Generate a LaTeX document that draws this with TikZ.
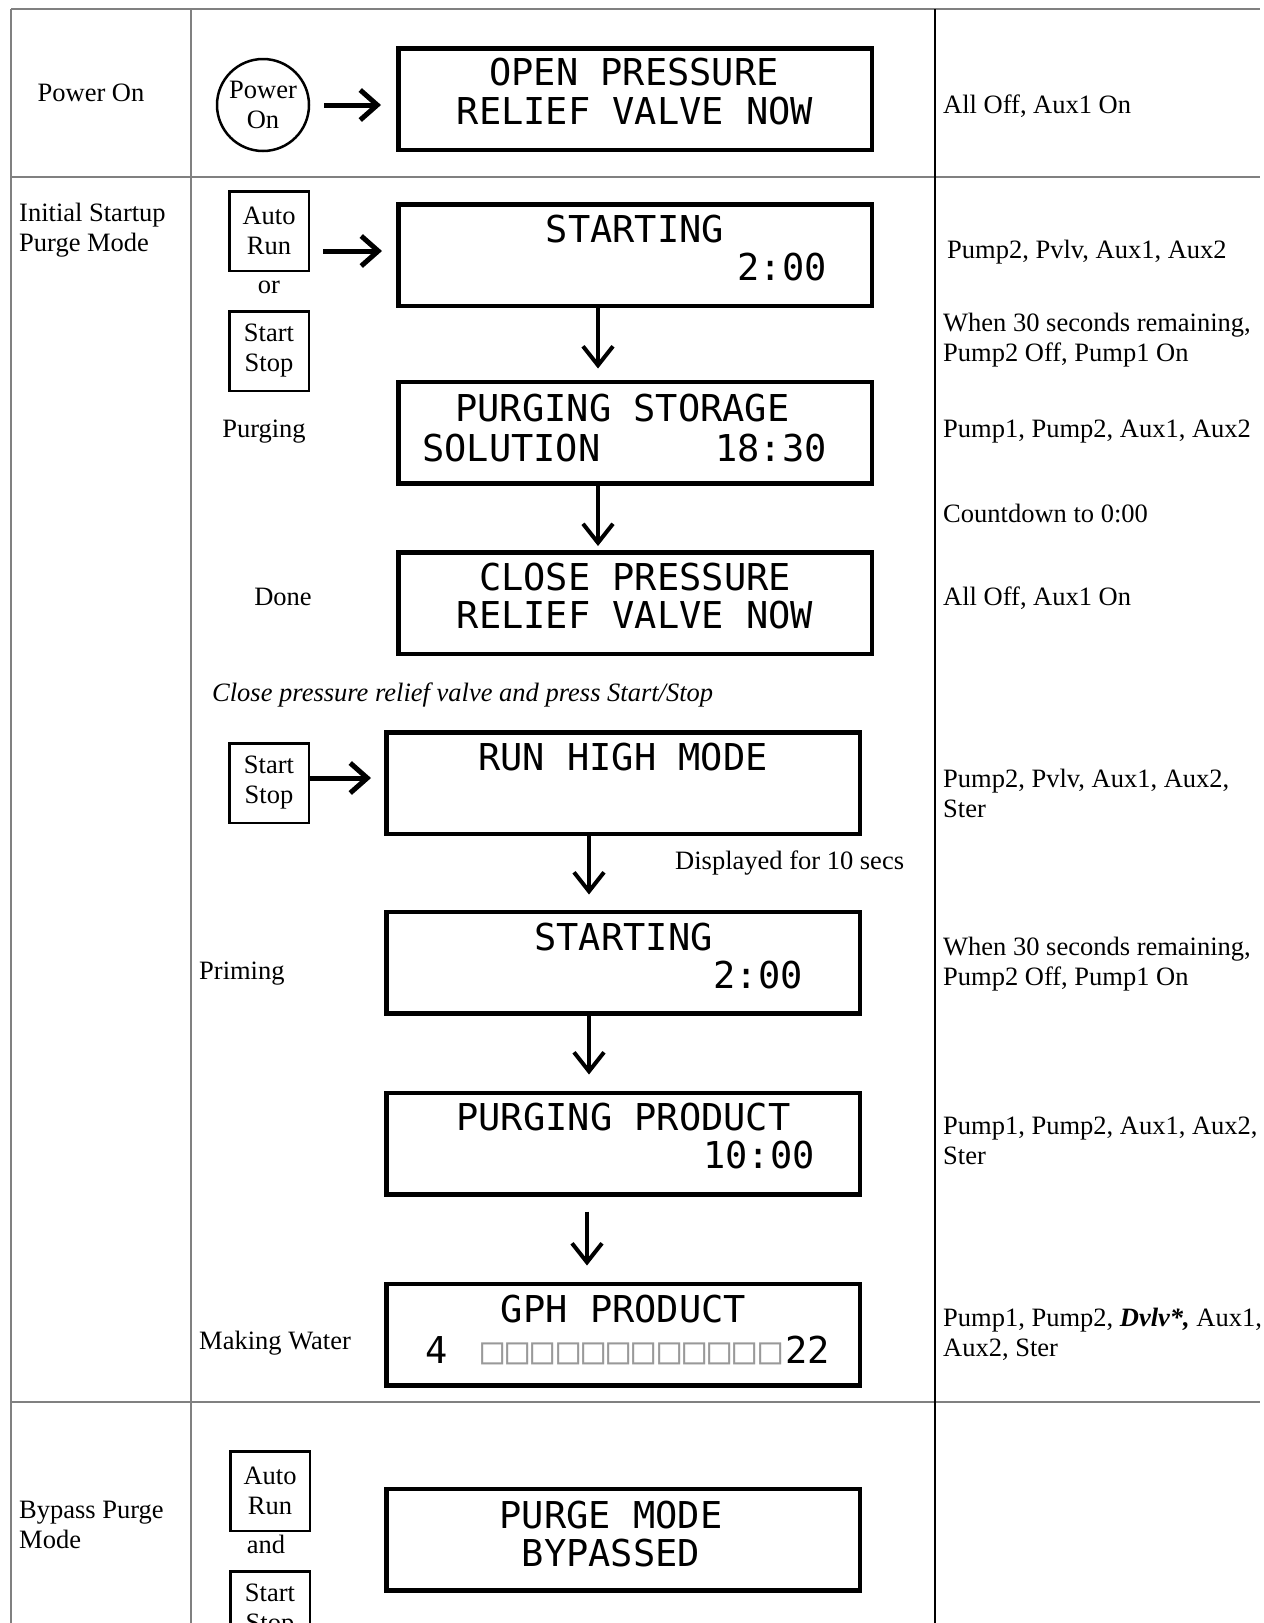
\documentclass[tikz,border=0pt]{standalone}
\usepackage{fontspec}
\setmainfont{Liberation Serif}
\newfontfamily\lcdfont{DejaVu Sans Mono}
\usetikzlibrary{arrows.meta,calc}
\newcommand\barcell{□\kern3pt}

\begin{document}
\begin{tikzpicture}[
    x=1pt, y=-1pt,
    tablerule/.style={draw=gray, line width=1.5pt},
    lcd/.style={rectangle, draw, line width=4.5pt, minimum width=473.5pt, minimum height=101.5pt, inner sep=0pt},
    lcdtext/.style={font=\lcdfont\fontsize{37}{40}\selectfont, inner sep=0pt},
    note/.style={font=\fontsize{26.5}{30}\selectfont, inner sep=0pt, align=left},
    button/.style={rectangle, draw, line width=2.5pt, minimum width=79.5pt, minimum height=79.5pt, inner sep=0pt, align=center, font=\fontsize{26.5}{30}\selectfont},
    harrow/.style={line width=5pt, -{Straight Barb[length=17pt, width=30pt]}},
    varrow/.style={line width=4pt, -{Straight Barb[length=19pt, width=30pt]}}
]
\useasboundingbox (0,0) rectangle (1264,1623);
\clip (0,0) rectangle (1264,1623);

% Table rules
\draw[tablerule] (11,9) -- (1260,9);
\draw[tablerule] (11,177) -- (1260,177);
\draw[tablerule] (11,1402) -- (1260,1402);
\draw[tablerule] (11,9) -- (11,1623);
\draw[tablerule] (191,9) -- (191,1623);
\draw[line width=2.5pt] (935,9) -- (935,1623);

% Power On row
\node[note, anchor=mid] (rowpower) at (91,99) {Power On};
\node[circle, draw, line width=2.5pt, minimum size=92pt, inner sep=0pt, align=center, font=\fontsize{26.5}{30}\selectfont] (pwr) at (263,105) {Power\\On};
\node[lcd] (d1) at (635,99) {};
\node[lcdtext, anchor=base] (d1a) at (634,85) {OPEN PRESSURE};
\node[lcdtext, anchor=base] (d1b) at (635,124) {RELIEF VALVE NOW};
\draw[harrow, shorten <=14pt, shorten >=15pt] (pwr.east) -- (pwr.east -| d1.west);
\node[note, anchor=mid west] (s1) at (943,111.5) {All Off, Aux1 On};

% Initial startup purge mode
\node[note, anchor=west] (rowstart) at (19,230) {Initial Startup\\Purge Mode};
\node[button] (ar1) at (269,231) {Auto\\Run};
\node[note, anchor=mid] (or1) at (269,291) {or};
\node[button] (ss1) at (269,351) {Start\\Stop};
\node[note, anchor=mid] (purging) at (264,435) {Purging};
\node[note, anchor=mid] (done) at (283,603) {Done};

\node[lcd] (d2) at (635,255) {};
\node[lcdtext, anchor=base] (d2a) at (635,242) {STARTING};
\node[lcdtext, anchor=base east] (d2b) at (827,280) {2:00};
\draw[harrow, shorten <=13pt, shorten >=14pt] ($(ar1.east)+(0,20)$) -- ($(ar1.east -| d2.west)+(0,20)$);

\node[lcd] (d3) at (635,432.5) {};
\node[lcdtext, anchor=base] (d3a) at (622.5,421) {PURGING STORAGE};
\node[lcdtext, anchor=base west] (d3b) at (422,461) {SOLUTION};
\node[lcdtext, anchor=base east] (d3c) at (827,461) {18:30};
\draw[varrow, shorten >=11pt] ($(d2.south)+(-37,0)$) -- ($(d3.north)+(-37,0)$);

\node[lcd] (d4) at (635,603) {};
\node[lcdtext, anchor=base] (d4a) at (635,590) {CLOSE PRESSURE};
\node[lcdtext, anchor=base] (d4b) at (635,628) {RELIEF VALVE NOW};
\draw[varrow, shorten >=4pt] ($(d3.south)+(-37,0)$) -- ($(d4.north)+(-37,0)$);

\node[note, anchor=mid west, font=\fontsize{26.5}{30}\selectfont\itshape] (closenote) at (212,699) {Close pressure relief valve and press Start/Stop};

% Run high mode and priming
\node[button] (ss2) at (269,783) {Start\\Stop};
\node[lcd] (d5) at (623,783) {};
\node[lcdtext, anchor=base] (d5a) at (623,770) {RUN HIGH MODE};
\draw[harrow, shorten >=13pt] ($(ss2.east)+(0,-5)$) -- ($(ss2.east -| d5.west)+(0,-5)$);
\node[note, anchor=mid west] (shown) at (675,867) {Displayed for 10 secs};

\node[note, anchor=mid west] (priming) at (199,977) {Priming};
\node[lcd] (d6) at (623,962.5) {};
\node[lcdtext, anchor=base] (d6a) at (623.5,950) {STARTING};
\node[lcdtext, anchor=base east] (d6b) at (803,988) {2:00};
\draw[varrow, shorten >=15pt] ($(d5.south)+(-34,0)$) -- ($(d6.north)+(-34,0)$);

\node[lcd] (d7) at (623,1143.5) {};
\node[lcdtext, anchor=base] (d7a) at (623.5,1130) {PURGING PRODUCT};
\node[lcdtext, anchor=base east] (d7b) at (815,1168) {10:00};
\draw[varrow, shorten >=16pt] ($(d6.south)+(-34,0)$) -- ($(d7.north)+(-34,0)$);

% Making water
\node[note, anchor=mid west] (making) at (199,1347) {Making Water};
\node[lcd] (d8) at (623,1334.5) {};
\node[lcdtext, anchor=base] (d8a) at (623.5,1322) {GPH PRODUCT};
\node[lcdtext, anchor=base west] (d8b) at (425,1363) {4};
\node[lcdtext, anchor=base west, text=gray!80] (d8c) at (481,1363) {\barcell\barcell\barcell\barcell\barcell\barcell\barcell\barcell\barcell\barcell\barcell□};
\node[lcdtext, anchor=base east] (d8d) at (830,1363) {22};
\draw[varrow, shorten <=15pt, shorten >=16pt] ($(d7.south)+(-36,0)$) -- ($(d8.north)+(-36,0)$);

% Outputs column
\node[note, anchor=mid west] (s2) at (947,256.5) {Pump2, Pvlv, Aux1, Aux2};
\node[note, anchor=west] (s3) at (943,340) {When 30 seconds remaining,\\Pump2 Off, Pump1 On};
\node[note, anchor=mid west] (s4) at (943,435.5) {Pump1, Pump2, Aux1, Aux2};
\node[note, anchor=mid west] (s5) at (943,520) {Countdown to 0:00};
\node[note, anchor=mid west] (s6) at (943,603) {All Off, Aux1 On};
\node[note, anchor=west] (s7) at (943,793.5) {Pump2, Pvlv, Aux1, Aux2,\\Ster};
\node[note, anchor=west] (s8) at (943,964) {When 30 seconds remaining,\\Pump2 Off, Pump1 On};
\node[note, anchor=west] (s9) at (943,1141) {Pump1, Pump2, Aux1, Aux2,\\Ster};
\node[note, anchor=west] (s10) at (943,1334) {Pump1, Pump2, \textbf{\textit{Dvlv*,}} Aux1,\\Aux2, Ster};

% Bypass purge mode
\node[note, anchor=west] (rowbypass) at (19,1525) {Bypass Purge\\Mode};
\node[button] (ar3) at (270,1491) {Auto\\Run};
\node[note, anchor=mid] (and3) at (266,1551) {and};
\node[button] (ss3) at (270,1611) {Start\\Stop};
\node[lcd] (d9) at (623,1539.5) {};
\node[lcdtext, anchor=base] (d9a) at (611,1528) {PURGE MODE};
\node[lcdtext, anchor=base] (d9b) at (611,1566) {BYPASSED};

\end{tikzpicture}
\end{document}
